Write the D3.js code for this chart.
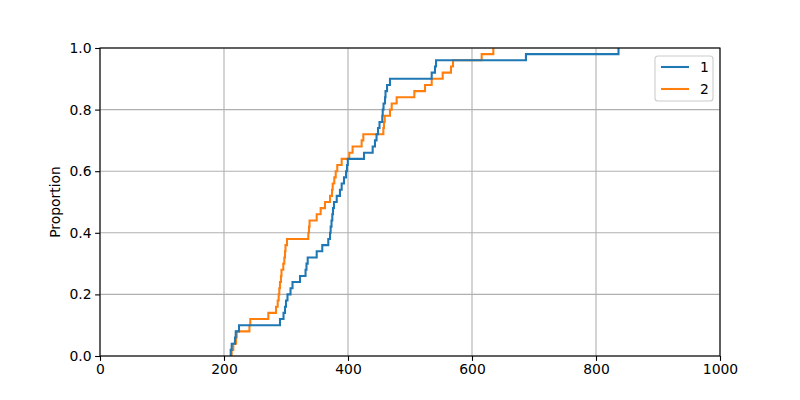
<!DOCTYPE html>
<html>
<head>
<meta charset="utf-8">
<script src="https://cdn.jsdelivr.net/npm/d3@7"></script>
<style>
  body { margin: 0; background: #fff; }
  svg text { font-family: "DejaVu Sans", sans-serif; }
</style>
</head>
<body>
<div class="ecdf-chart"></div>
<script>
var groupNames = ["1", "2"];
var values1 = [210.8, 212.4, 217.7, 218.9, 224.2, 290.3, 296, 298.4, 300, 302.4,
  307.3, 310.5, 322.6, 331.5, 333, 335, 349.5, 358.5, 368.2, 371,
  372, 373.4, 374.7, 375.8, 377.4, 381.8, 387, 389.8, 393.5, 396.8,
  398.4, 399.7, 425.8, 439.8, 443.5, 446, 448.4, 450.8, 455.3, 456,
  457.3, 459.7, 460.5, 463, 467.7, 535, 540.3, 542, 687, 836.3];
var values2 = [212.4, 215, 219.4, 220.5, 241, 242.4, 271.5, 283.9, 286.6, 288.2,
  289.2, 290.3, 291.9, 292.7, 295.6, 297.3, 298.4, 299.2, 301.6, 336,
  337.1, 338, 349.5, 355.9, 362.9, 371, 374.2, 375.3, 377.9, 380.2,
  382.7, 389.8, 402, 407.4, 422, 424.7, 457, 458, 459.2, 467.7,
  470.5, 478.5, 507, 524.2, 535, 552.7, 566.1, 569.4, 615.6, 634.4];
var xTicks = [0, 200, 400, 600, 800, 1000];
var yTicks = [0, 0.2, 0.4, 0.6, 0.8, 1.0];

var width = 800, height = 400;
var margin = {top: 48, right: 80, bottom: 44, left: 100};
var colors = ["#1f77b4", "#ff7f0e"];

var x = d3.scaleLinear().domain([0, 1000]).range([margin.left, width - margin.right]);
var y = d3.scaleLinear().domain([0, 1]).range([height - margin.bottom, margin.top]);

function ecdf(vals) {
  var s = vals.slice().sort(d3.ascending);
  var pts = [[s[0], 0]];
  s.forEach(function(v, i) { pts.push([v, (i + 1) / s.length]); });
  return pts;
}

var svg = d3.select(".ecdf-chart").append("svg")
    .attr("width", width)
    .attr("height", height);

// grid
svg.append("g").selectAll("line").data(xTicks).enter().append("line")
    .attr("x1", function(d) { return x(d); }).attr("x2", function(d) { return x(d); })
    .attr("y1", y(0)).attr("y2", y(1))
    .attr("stroke", "#b0b0b0").attr("stroke-width", 1.1);
svg.append("g").selectAll("line").data(yTicks).enter().append("line")
    .attr("y1", function(d) { return y(d); }).attr("y2", function(d) { return y(d); })
    .attr("x1", x(0)).attr("x2", x(1000))
    .attr("stroke", "#b0b0b0").attr("stroke-width", 1.1);

svg.append("clipPath").attr("id", "clip").append("rect")
    .attr("x", x(0)).attr("y", y(1)).attr("width", x(1000) - x(0)).attr("height", y(0) - y(1));

var line = d3.line()
    .x(function(d) { return x(d[0]); })
    .y(function(d) { return y(d[1]); })
    .curve(d3.curveStepAfter);

// group 2 underneath, group 1 on top
[[values2, 1], [values1, 0]].forEach(function(g) {
  svg.append("path")
      .datum(ecdf(g[0]))
      .attr("clip-path", "url(#clip)")
      .attr("fill", "none")
      .attr("stroke", colors[g[1]])
      .attr("stroke-width", 2.08)
      .attr("d", line);
});

// axes
var xAxis = svg.append("g")
    .attr("transform", "translate(0," + y(0) + ")")
    .call(d3.axisBottom(x).tickValues(xTicks).tickFormat(d3.format("d")).tickSizeInner(4.9).tickSizeOuter(0));
var yAxis = svg.append("g")
    .attr("transform", "translate(" + x(0) + ",0)")
    .call(d3.axisLeft(y).tickValues(yTicks).tickFormat(d3.format(".1f")).tickSizeInner(4.9).tickSizeOuter(0));
[xAxis, yAxis].forEach(function(a) {
  a.selectAll("text").attr("font-size", "13.9px").attr("fill", "#000")
    .style("font-family", "DejaVu Sans, sans-serif");
  a.selectAll("line").attr("stroke", "#000").attr("stroke-width", 1.1);
  a.select(".domain").remove();
});
xAxis.selectAll("text").attr("dy", "0.71em").attr("y", 8.4);
yAxis.selectAll("text").attr("x", -8.4);

// frame
svg.append("rect")
    .attr("x", x(0)).attr("y", y(1))
    .attr("width", x(1000) - x(0)).attr("height", y(0) - y(1))
    .attr("fill", "none").attr("stroke", "#000").attr("stroke-width", 1.1);

svg.append("text")
    .attr("transform", "translate(60," + (y(0.5)) + ") rotate(-90)")
    .attr("text-anchor", "middle")
    .attr("font-size", "13.9px")
    .text("Proportion");

// legend
var lg = svg.append("g").attr("transform", "translate(655,56)");
lg.append("rect")
    .attr("width", 58).attr("height", 45).attr("rx", 3)
    .attr("fill", "#fff").attr("fill-opacity", 0.8)
    .attr("stroke", "#cccccc").attr("stroke-width", 1.1);
groupNames.forEach(function(name, i) {
  var yy = 11 + i * 22;
  lg.append("line")
      .attr("x1", 6).attr("x2", 34).attr("y1", yy).attr("y2", yy)
      .attr("stroke", colors[i]).attr("stroke-width", 2.08);
  lg.append("text")
      .attr("x", 45).attr("y", yy).attr("dy", "0.36em")
      .attr("font-size", "13.9px")
      .text(name);
});
</script>
</body>
</html>
